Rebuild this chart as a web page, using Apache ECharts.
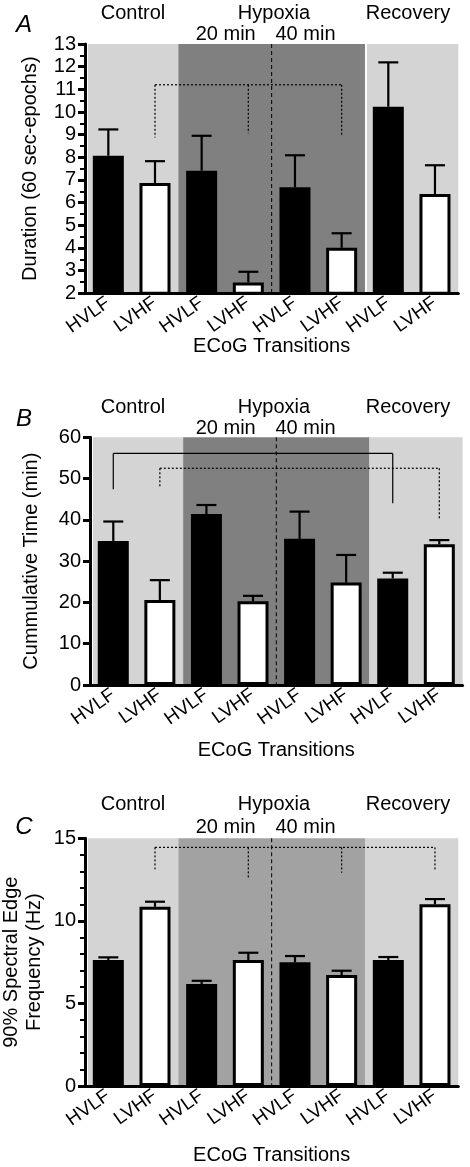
<!DOCTYPE html>
<html><head><meta charset="utf-8">
<script src="https://cdn.jsdelivr.net/npm/echarts@6/dist/echarts.min.js"></script>
<style>html,body{margin:0;padding:0;background:#fff}#c{width:470px;height:1167px}</style>
</head><body><div id="c"></div>
<script>
// ---------- data ----------
const categories = ['HVLF', 'LVHF', 'HVLF', 'LVHF', 'HVLF', 'LVHF', 'HVLF', 'LVHF'];
const groupLabels = ['Control', 'Hypoxia', 'Recovery'];
const subLabels = ['20 min', '40 min'];
const xAxisTitle = 'ECoG Transitions';

// Panel A: duration (60 sec-epochs); error = upper end of SEM bar
const durationMean = [8.07, 6.87, 7.41, 2.48, 6.68, 4.01, 10.23, 6.38];
const durationUpper = [9.23, 7.83, 8.95, 2.95, 8.09, 4.65, 12.19, 7.65];
// Panel B: cumulative time (min)
const cumTimeMean = [34.9, 20.6, 41.4, 20.3, 35.4, 24.8, 25.8, 34.1];
const cumTimeUpper = [39.6, 25.4, 43.6, 21.6, 42.0, 31.5, 27.2, 35.1];
// Panel C: 90% spectral edge frequency (Hz)
const sefMean = [7.63, 10.85, 6.17, 7.63, 7.49, 6.72, 7.63, 11.0];
const sefUpper = [7.79, 11.16, 6.37, 8.07, 7.87, 6.98, 7.81, 11.32];

// condition bands: [first category, last category]
const bandSpans = [[0, 1], [2, 5], [6, 7]];

// significance brackets: level, and [category, drop-to value] for each leg
const bracketsA = [{ y: 11.2, legs: [[1, 8.87], [3, 9.06], [5, 9.0]], solid: false }];
const bracketsB = [
  { y: 56.1, legs: [[0, 47.4], [6, 44.0]], solid: true },
  { y: 52.5, legs: [[1, 48.0], [7, 40.4]], solid: false }
];
const bracketsC = [{ y: 14.45, legs: [[1, 13.12], [3, 12.53], [5, 12.91], [7, 13.07]], solid: false }];

// y-axis ranges
const yRangeA = [2, 13, 1];
const yRangeB = [0, 60, 10];
const yRangeC = [0, 15, 5];

// ---------- layout / style ----------
const FONT = '"Liberation Sans", Arial, Helvetica, sans-serif';
const LIGHT = '#d4d4d4';
const panels = [
  { letter: 'A', mean: durationMean, upper: durationUpper, range: yRangeA, minor: 2,
    yName: 'Duration (60 sec-epochs)', brackets: bracketsA, dark: '#808080', gap: true,
    grid: { left: 85, top: 44, width: 373.3, height: 249.3 }, xNameGap: 43, yNameGap: 43,
    labelY: 13, subY: 34, letterY: 25 },
  { letter: 'B', mean: cumTimeMean, upper: cumTimeUpper, range: yRangeB, minor: 0,
    yName: 'Cummulative Time (min)', brackets: bracketsB, dark: '#808080', gap: false,
    grid: { left: 90, top: 437.3, width: 372.6, height: 247.7 }, xNameGap: 55, yNameGap: 47,
    labelY: 407, subY: 428, letterY: 419 },
  { letter: 'C', mean: sefMean, upper: sefUpper, range: yRangeC, minor: 5,
    yName: '90% Spectral Edge\nFrequency (Hz)', brackets: bracketsC, dark: '#a2a2a2', gap: false,
    grid: { left: 85, top: 838.3, width: 373.3, height: 247.7 }, xNameGap: 59, yNameGap: 39,
    labelY: 804, subY: 827, letterY: 827 }
];
const groupX = [133, 274, 408];
const subX = [225.7, 305.5];

const chart = echarts.init(document.getElementById('c'), null, { renderer: 'canvas', width: 470, height: 1167 });

const grids = [], xAxes = [], yAxes = [], series = [], graphics = [];

panels.forEach((p, gi) => {
  const [yMin, yMax, yInt] = p.range;
  grids.push(Object.assign({ containLabel: false, outerBoundsMode: 'none' }, p.grid));
  xAxes.push({
    type: 'category', gridIndex: gi, data: categories,
    name: xAxisTitle, nameLocation: 'middle', nameGap: p.xNameGap, nameMoveOverlap: false,
    nameTextStyle: { fontFamily: FONT, fontSize: 20, color: '#000' },
    axisLine: { lineStyle: { color: '#000', width: 3 } },
    axisTick: { alignWithLabel: true, length: 7, lineStyle: { color: '#000', width: 3 } },
    axisLabel: { interval: 0, rotate: 35, margin: 8, fontFamily: FONT, fontSize: 19, color: '#000' },
    splitLine: { show: false }
  });
  yAxes.push({
    type: 'value', gridIndex: gi, min: yMin, max: yMax, interval: yInt,
    name: p.yName, nameLocation: 'middle', nameGap: p.yNameGap, nameMoveOverlap: false,
    nameTextStyle: { fontFamily: FONT, fontSize: 20, color: '#000', lineHeight: 23 },
    axisLine: { show: true, lineStyle: { color: '#000', width: 3 } },
    axisTick: { show: true, length: 7, lineStyle: { color: '#000', width: 3 } },
    minorTick: { show: p.minor > 0, splitNumber: p.minor || 5, length: 5, lineStyle: { color: '#000', width: 2 } },
    axisLabel: { margin: 9, fontFamily: FONT, fontSize: 20, color: '#000' },
    splitLine: { show: false }
  });

  // background condition bands + 20/40 min divider
  series.push({
    type: 'custom', xAxisIndex: gi, yAxisIndex: gi, z: 0, silent: true, clip: false,
    data: bandSpans.map((b, i) => [b[0], b[1], i]),
    renderItem: (params, api) => {
      const i = params.dataIndex;
      const s = api.value(0), e = api.value(1);
      const bw = api.size([1, 0])[0];
      const top = api.coord([s, yMax])[1], bot = api.coord([s, yMin])[1];
      let x0 = api.coord([s, yMin])[0] - bw / 2 + (i === 0 ? 3 : 0);
      let x1 = api.coord([e, yMin])[0] + bw / 2;
      if (p.gap && i === 2) x0 += 2;
      const children = [{
        type: 'rect', shape: { x: x0, y: top, width: x1 - x0, height: bot - top },
        style: { fill: i === 1 ? p.dark : LIGHT }
      }];
      if (i === 1) {
        const xm = (api.coord([3, yMin])[0] + api.coord([4, yMin])[0]) / 2;
        children.push({
          type: 'line', shape: { x1: xm, y1: top, x2: xm, y2: bot },
          style: { stroke: '#000', lineWidth: 1, lineDash: [4, 3] }
        });
      }
      return { type: 'group', children };
    }
  });

  // bars
  series.push({
    type: 'bar', xAxisIndex: gi, yAxisIndex: gi, z: 2, barWidth: 31, silent: true,
    data: p.mean,
    itemStyle: {
      color: (params) => params.dataIndex % 2 === 0 ? '#000' : '#fff',
      borderColor: '#000', borderWidth: 3
    }
  });

  // error bars (upper)
  series.push({
    type: 'custom', xAxisIndex: gi, yAxisIndex: gi, z: 3, silent: true, clip: false,
    data: p.mean.map((m, i) => [i, m, p.upper[i]]),
    renderItem: (params, api) => {
      const a = api.coord([api.value(0), api.value(1)]);
      const b = api.coord([api.value(0), api.value(2)]);
      return {
        type: 'group', children: [
          { type: 'line', shape: { x1: a[0], y1: a[1], x2: b[0], y2: b[1] }, style: { stroke: '#000', lineWidth: 2.2 } },
          { type: 'line', shape: { x1: b[0] - 10, y1: b[1], x2: b[0] + 10, y2: b[1] }, style: { stroke: '#000', lineWidth: 2.2 } }
        ]
      };
    }
  });

  // significance brackets
  series.push({
    type: 'custom', xAxisIndex: gi, yAxisIndex: gi, z: 4, silent: true, clip: false,
    data: p.brackets.map((b, i) => [b.legs[0][0], b.y, i]),
    renderItem: (params, api) => {
      const b = p.brackets[params.dataIndex];
      const style = { stroke: '#000', lineWidth: 1.2, lineDash: b.solid ? null : [2, 2] };
      const yTop = api.coord([0, b.y])[1];
      const xs = b.legs.map(l => api.coord([l[0], b.y])[0]);
      const children = [{ type: 'line', shape: { x1: xs[0], y1: yTop, x2: xs[xs.length - 1], y2: yTop }, style }];
      b.legs.forEach((l, k) => {
        const yb = api.coord([l[0], l[1]])[1];
        children.push({ type: 'line', shape: { x1: xs[k], y1: yTop, x2: xs[k], y2: yb }, style });
      });
      return { type: 'group', children };
    }
  });

  // texts
  groupLabels.forEach((t, k) => graphics.push({
    type: 'text', x: groupX[k], y: p.labelY,
    style: { text: t, font: '20px ' + FONT, fill: '#000', textAlign: 'center', textVerticalAlign: 'middle' }
  }));
  subLabels.forEach((t, k) => graphics.push({
    type: 'text', x: subX[k], y: p.subY,
    style: { text: t, font: '20px ' + FONT, fill: '#000', textAlign: 'center', textVerticalAlign: 'middle' }
  }));
  graphics.push({
    type: 'text', x: 24, y: p.letterY,
    style: { text: p.letter, font: 'italic 24px ' + FONT, fill: '#000', textAlign: 'center', textVerticalAlign: 'middle' }
  });
});

chart.setOption({
  animation: false,
  backgroundColor: '#fff',
  grid: grids, xAxis: xAxes, yAxis: yAxes, series, graphic: graphics
});
</script></body></html>
